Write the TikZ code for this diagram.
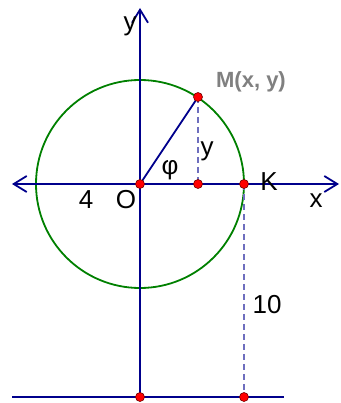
\documentclass[tikz,border=0pt]{standalone}
\usepackage{fontspec}
\setmainfont{Liberation Sans}
\usetikzlibrary{arrows.meta}
\definecolor{axiscol}{RGB}{0,0,140}
\definecolor{circcol}{RGB}{0,128,0}
\definecolor{dashcol}{RGB}{110,110,190}
\definecolor{mcol}{RGB}{128,128,128}
\tikzset{myBarb/.tip={Straight Barb[length=13pt,width=16pt]}}
\begin{document}
\begin{tikzpicture}[x=1pt,y=-1pt,
  axis/.style={draw=axiscol, line width=1.8pt},
  dashline/.style={draw=dashcol, line width=1.2pt, dash pattern=on 6pt off 4pt},
  dot/.style={circle, fill=red, draw=red!45!black, line width=0.6pt, inner sep=0pt, minimum size=9pt},
  lbl/.style={font=\fontsize{26}{26}\selectfont, inner sep=0pt, anchor=base},
  mlbl/.style={font=\fontsize{22}{22}\selectfont\bfseries, text=mcol, inner sep=0pt, anchor=base}]
\useasboundingbox (0,0) rectangle (340,403);
% points
\coordinate (O) at (140,184);
\coordinate (M) at (198,97);
\coordinate (H) at (198,184);
\coordinate (K) at (244,184);
\coordinate (B1) at (140,397);
\coordinate (B2) at (244,397);
\coordinate (XL) at (12,184);
\coordinate (XR) at (339,184);
\coordinate (YT) at (140,8);
\coordinate (BL) at (12,397);
\coordinate (BR) at (284,397);
% circle
\draw[draw=circcol, line width=1.8pt] (O) circle[radius=104];
% axes
\draw[axis, myBarb-myBarb] (XL) -- (XR);
\draw[axis, -myBarb] (B1) -- (YT);
\draw[axis] (BL) -- (BR);
% dashed
\draw[dashline] (M) -- (H);
\draw[dashline] (K) -- (B2);
% radius
\draw[axis] (O) -- (M);
% dots
\foreach \p in {O,M,H,K,B1,B2} \node[dot] at (\p) {};
% labels
\node[lbl] (ly) at (130,31) {y};
\node[lbl] (lx) at (316,207) {x};
\node[lbl] (lK) at (269,190) {K};
\node[lbl] (lO) at (126,208) {O};
\node[lbl] (l4) at (86,208) {4};
\node[lbl] (lphi) at (170,175) {φ};
\node[lbl] (ly2) at (207,156) {y};
\node[lbl] (l10) at (267,313) {10};
\node[mlbl] (lM) at (251,88) {M(x, y)};
\end{tikzpicture}
\end{document}
